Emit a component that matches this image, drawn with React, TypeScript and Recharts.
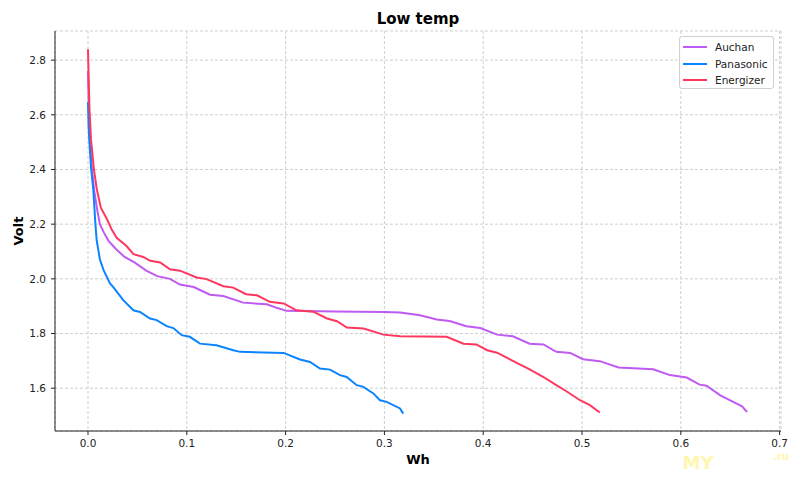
import React from 'react';
import { LineChart, Line, XAxis, YAxis, CartesianGrid, Legend } from 'recharts';

// Wh / Volt readings per battery
const auchanWh = [0, 0.0008, 0.002, 0.004, 0.0064, 0.009, 0.012, 0.016, 0.0206, 0.028, 0.037, 0.047, 0.059, 0.07, 0.083, 0.093, 0.107, 0.1235, 0.137, 0.157, 0.181, 0.191, 0.201, 0.25, 0.3, 0.316, 0.336, 0.353, 0.366, 0.383, 0.397, 0.414, 0.43, 0.447, 0.461, 0.474, 0.488, 0.501, 0.518, 0.537, 0.572, 0.589, 0.606, 0.619, 0.626, 0.64, 0.653, 0.662, 0.667];
const auchanVolt = [2.76, 2.62, 2.5, 2.4, 2.32, 2.26, 2.2, 2.17, 2.14, 2.11, 2.08, 2.06, 2.03, 2.01, 2.0, 1.979, 1.97, 1.942, 1.937, 1.913, 1.907, 1.894, 1.883, 1.881, 1.879, 1.877, 1.867, 1.851, 1.846, 1.827, 1.82, 1.796, 1.79, 1.763, 1.76, 1.733, 1.729, 1.706, 1.699, 1.676, 1.669, 1.648, 1.639, 1.613, 1.609, 1.574, 1.55, 1.534, 1.513];

const panasonicWh = [0, 0.0006, 0.0013, 0.003, 0.0054, 0.0075, 0.0088, 0.0121, 0.016, 0.0223, 0.0256, 0.0357, 0.0459, 0.0526, 0.0628, 0.0695, 0.0796, 0.0864, 0.0948, 0.103, 0.1134, 0.13, 0.147, 0.154, 0.198, 0.2146, 0.2247, 0.2348, 0.245, 0.255, 0.2618, 0.272, 0.2787, 0.2888, 0.2955, 0.3023, 0.3158, 0.319];
const panasonicVolt = [2.647, 2.56, 2.507, 2.41, 2.324, 2.2, 2.141, 2.07, 2.03, 1.983, 1.97, 1.922, 1.885, 1.879, 1.855, 1.849, 1.827, 1.82, 1.794, 1.788, 1.763, 1.757, 1.739, 1.733, 1.729, 1.705, 1.696, 1.672, 1.668, 1.648, 1.641, 1.611, 1.605, 1.581, 1.556, 1.55, 1.526, 1.507];

const energizerWh = [0, 0.0005, 0.0015, 0.003, 0.006, 0.0088, 0.013, 0.019, 0.024, 0.029, 0.039, 0.046, 0.056, 0.063, 0.073, 0.083, 0.093, 0.11, 0.12, 0.137, 0.147, 0.16, 0.171, 0.184, 0.198, 0.211, 0.228, 0.242, 0.252, 0.262, 0.279, 0.299, 0.316, 0.363, 0.38, 0.393, 0.404, 0.414, 0.43, 0.447, 0.461, 0.474, 0.485, 0.498, 0.508, 0.518];
const energizerVolt = [2.84, 2.76, 2.62, 2.51, 2.4, 2.33, 2.26, 2.22, 2.18, 2.15, 2.12, 2.09, 2.08, 2.066, 2.06, 2.035, 2.03, 2.005, 1.999, 1.973, 1.968, 1.944, 1.94, 1.916, 1.91, 1.885, 1.88, 1.855, 1.845, 1.822, 1.818, 1.796, 1.79, 1.788, 1.763, 1.76, 1.739, 1.73, 1.7, 1.669, 1.641, 1.611, 1.587, 1.556, 1.538, 1.511];

const xTicks = [0, 0.1, 0.2, 0.3, 0.4, 0.5, 0.6, 0.7];
const yTicks = [1.6, 1.8, 2.0, 2.2, 2.4, 2.6, 2.8];

const toPoints = (wh: number[], volt: number[]) => wh.map((x, i) => ({ x, v: volt[i] }));

const series = [
  { name: 'Auchan', color: '#BF5AF2', data: toPoints(auchanWh, auchanVolt) },
  { name: 'Panasonic', color: '#0A84FF', data: toPoints(panasonicWh, panasonicVolt) },
  { name: 'Energizer', color: '#FF375F', data: toPoints(energizerWh, energizerVolt) },
];

const font = '"DejaVu Sans", sans-serif';
const tickStyle = { fontSize: 10.5, fill: '#222', fontFamily: font };
const xDomain = [-0.0334, 0.7014];
const yDomain = [1.4435, 2.9065];

const LegendBox = () => (
  <div style={{ width: 95, height: 53, boxSizing: 'border-box', border: '1px solid #d0d0d0', borderRadius: 3, background: 'rgba(255,255,255,0.85)', padding: '2px 0 0 3px', fontFamily: font, fontSize: 10.5, color: '#222' }}>
    {series.map((s) => (
      <div key={s.name} style={{ display: 'flex', alignItems: 'center', height: 16.6 }}>
        <span style={{ display: 'inline-block', width: 24, height: 2, background: s.color, marginRight: 8 }} />
        <span>{s.name}</span>
      </div>
    ))}
  </div>
);

export default function App() {
  return (
    <>
      <style>{'body{margin:0}'}</style>
      <LineChart width={800} height={480} margin={{ top: 31, right: 19, left: 0, bottom: 0 }}>
        <CartesianGrid stroke="#cfcfcf" strokeDasharray="3 2" />
        <XAxis
          type="number"
          dataKey="x"
          domain={xDomain}
          ticks={xTicks}
          tickFormatter={(v: number) => v.toFixed(1)}
          height={49}
          tick={tickStyle}
          tickSize={4}
          tickMargin={5}
          axisLine={{ stroke: '#222' }}
          tickLine={{ stroke: '#222' }}
          allowDuplicatedCategory={false}
          label={{ value: 'Wh', position: 'insideBottom', offset: 16, style: { fontFamily: font, fontSize: 13, fontWeight: 'bold', fill: '#000' } }}
        />
        <XAxis xAxisId="top" orientation="top" type="number" domain={xDomain} height={0} tick={false} tickLine={false} axisLine={{ stroke: '#222' }} />
        <YAxis
          type="number"
          domain={yDomain}
          ticks={yTicks}
          tickFormatter={(v: number) => v.toFixed(1)}
          width={55}
          tick={tickStyle}
          tickSize={4}
          tickMargin={5}
          axisLine={{ stroke: '#222' }}
          tickLine={{ stroke: '#222' }}
          label={{ value: 'Volt', angle: -90, position: 'insideLeft', offset: 18, style: { textAnchor: 'middle', fontFamily: font, fontSize: 13, fontWeight: 'bold', fill: '#000' } }}
        />
        <YAxis yAxisId="right" orientation="right" type="number" domain={yDomain} width={0} tick={false} tickLine={false} axisLine={{ stroke: '#222' }} />
        {series.map((s) => (
          <Line
            key={s.name}
            data={s.data}
            dataKey="v"
            name={s.name}
            type="linear"
            stroke={s.color}
            strokeWidth={2}
            dot={false}
            isAnimationActive={false}
          />
        ))}
        <Legend
          layout="horizontal"
          verticalAlign="middle"
          align="center"
          wrapperStyle={{ top: 36, left: 679, width: 95, height: 53 }}
          content={() => <LegendBox />}
        />
        <text x={418} y={24} textAnchor="middle" fontFamily={font} fontSize={15} fontWeight="bold" fill="#000">Low temp</text>
        <text x={698} y={469} textAnchor="middle" fontFamily={font} fontSize={18} fontWeight="bold" fill="#fff59d" opacity={0.8}>MY</text>
        <text x={781} y={460} textAnchor="middle" fontFamily={font} fontSize={10} fontWeight="bold" fill="#fff59d" opacity={0.8}>.ru</text>
      </LineChart>
    </>
  );
}
